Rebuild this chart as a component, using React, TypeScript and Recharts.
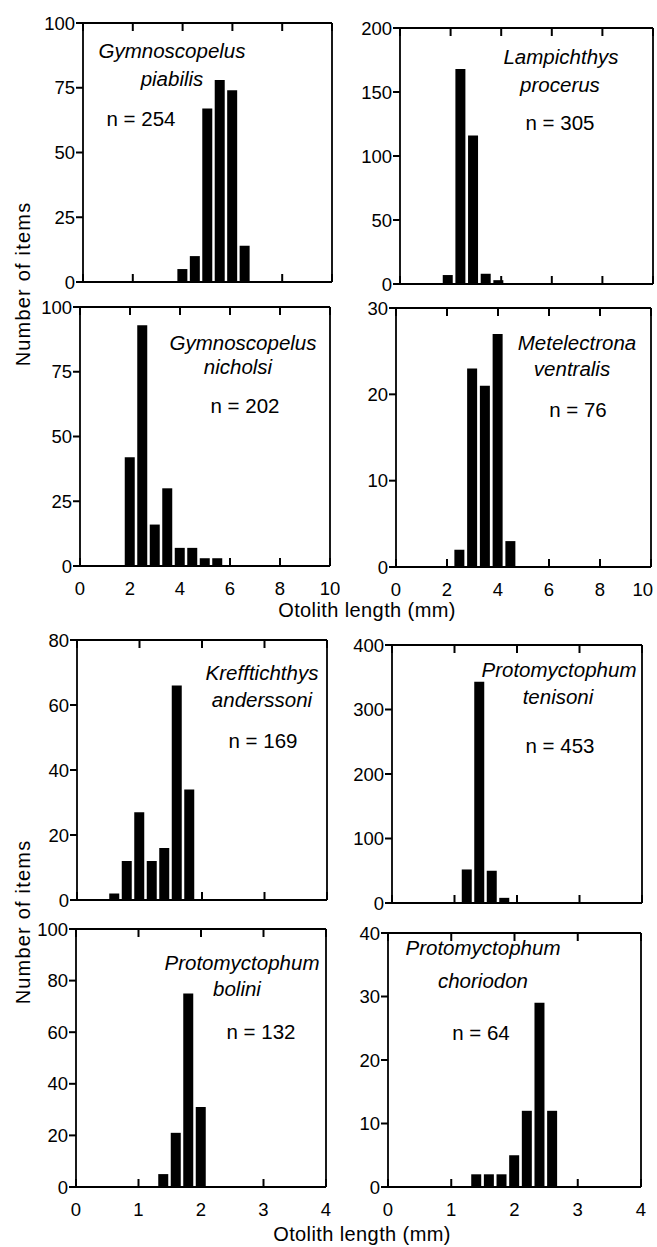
import { BarChart, Bar, XAxis, YAxis } from 'recharts';

// bin centres (mm) and counts
const piabilisBins = [4, 4.5, 5, 5.5, 6, 6.5];
const piabilisCounts = [5, 10, 67, 78, 74, 14];

const procerusBins = [1.9, 2.4, 2.9, 3.4, 3.9];
const procerusCounts = [7, 168, 116, 8, 3];

const nicholsiBins = [2, 2.5, 3, 3.5, 4, 4.5, 5, 5.5];
const nicholsiCounts = [42, 93, 16, 30, 7, 7, 3, 3];

const ventralisBins = [2.5, 3, 3.5, 4, 4.5];
const ventralisCounts = [2, 23, 21, 27, 3];

const anderssoniBins = [0.6, 0.8, 1.0, 1.2, 1.4, 1.6, 1.8];
const anderssoniCounts = [2, 12, 27, 12, 16, 66, 34];

const tenisoniBins = [1.2, 1.4, 1.6, 1.8];
const tenisoniCounts = [52, 343, 50, 8];

const boliniBins = [1.4, 1.6, 1.8, 2.0];
const boliniCounts = [5, 21, 75, 31];

const choriodonBins = [1.4, 1.6, 1.8, 2.0, 2.2, 2.4, 2.6];
const choriodonCounts = [2, 2, 2, 5, 12, 29, 12];

const wideXTicks = [0, 2, 4, 6, 8, 10];
const narrowXTicks = [0, 1, 2, 3, 4];

const ticks100by25 = [0, 25, 50, 75, 100];
const ticks200 = [0, 50, 100, 150, 200];
const ticks30 = [0, 10, 20, 30];
const ticks80 = [0, 20, 40, 60, 80];
const ticks400 = [0, 100, 200, 300, 400];
const ticks100by20 = [0, 20, 40, 60, 80, 100];
const ticks40 = [0, 10, 20, 30, 40];

const FONT = '"Liberation Sans", Arial, Helvetica, sans-serif';
const tickStyle = { fill: '#000', fontSize: 18.5, fontFamily: FONT };
const axisStroke = { stroke: '#000', strokeWidth: 1.8 };
const TICK = 8;

interface PanelProps {
  bins: number[];
  counts: number[];
  xTicks: number[];
  yTicks: number[];
  box: [number, number, number, number];
  xLabels: boolean;
  rightTicks: boolean;
  endLabelInside?: boolean;
}

function Panel({ bins, counts, xTicks, yTicks, box, xLabels, rightTicks, endLabelInside }: PanelProps) {
  const data = bins.map((x, i) => ({ x, n: counts[i] }));
  const [l, t, r, b] = box;
  const ML = 50, MT = 10, MR = 10, MB = 40;
  const xMax = xTicks[xTicks.length - 1];
  const yMax = yTicks[yTicks.length - 1];

  // inward ticks on the bottom, labels below
  const bottomTick = (p: any) => {
    const v = p.payload.value;
    const atEnd = endLabelInside && v === xMax;
    return (
      <g>
        <line x1={p.x} y1={p.y} x2={p.x} y2={p.y - TICK} stroke="#000" strokeWidth={2} />
        {xLabels && (
          <text x={atEnd ? p.x + 2 : p.x} y={p.y + 29} textAnchor={atEnd ? 'end' : 'middle'} {...tickStyle}>
            {v}
          </text>
        )}
      </g>
    );
  };
  const topTick = (p: any) => (
    <g>
      <line x1={p.x} y1={p.y} x2={p.x} y2={p.y + TICK} stroke="#000" strokeWidth={2} />
    </g>
  );
  const rightTick = (p: any) => (
    <g>
      {rightTicks && <line x1={p.x - TICK} y1={p.y} x2={p.x + 2} y2={p.y} stroke="#000" strokeWidth={2} />}
    </g>
  );

  return (
    <div style={{ position: 'absolute', left: l - ML, top: t - MT }}>
      <BarChart
        width={r - l + ML + MR}
        height={b - t + MT + MB}
        data={data}
        margin={{ top: MT - 1, right: MR - 1, left: 0, bottom: 0 }}
      >
        <XAxis
          dataKey="x"
          type="number"
          domain={[0, xMax]}
          ticks={xTicks}
          interval={0}
          height={MB}
          tickSize={0}
          tickMargin={0}
          tickLine={false}
          tick={bottomTick}
          axisLine={axisStroke}
        />
        <XAxis
          xAxisId="top"
          orientation="top"
          dataKey="x"
          type="number"
          domain={[0, xMax]}
          ticks={xTicks}
          interval={0}
          height={1}
          tickSize={0}
          tickMargin={0}
          tickLine={false}
          tick={topTick}
          axisLine={axisStroke}
        />
        <YAxis
          type="number"
          domain={[0, yMax]}
          ticks={yTicks}
          interval={0}
          width={ML}
          tickSize={7}
          tickMargin={1}
          tick={tickStyle}
          axisLine={axisStroke}
          tickLine={{ stroke: '#000', strokeWidth: 2 }}
        />
        <YAxis
          yAxisId="right"
          orientation="right"
          type="number"
          domain={[0, yMax]}
          ticks={yTicks}
          interval={0}
          width={1}
          tickSize={0}
          tickMargin={0}
          tickLine={false}
          tick={rightTick}
          axisLine={axisStroke}
        />
        <Bar dataKey="n" fill="#000" barSize={10} isAnimationActive={false} />
      </BarChart>
    </div>
  );
}

const species: { text: string; x: number; y: number; italic: boolean }[] = [
  { text: 'Gymnoscopelus', x: 172, y: 58, italic: true },
  { text: 'piabilis', x: 172, y: 86, italic: true },
  { text: 'n = 254', x: 141, y: 126, italic: false },
  { text: 'Lampichthys', x: 561, y: 64, italic: true },
  { text: 'procerus', x: 560, y: 92, italic: true },
  { text: 'n = 305', x: 560, y: 130, italic: false },
  { text: 'Gymnoscopelus', x: 243, y: 350, italic: true },
  { text: 'nicholsi', x: 238, y: 374, italic: true },
  { text: 'n = 202', x: 245, y: 413, italic: false },
  { text: 'Metelectrona', x: 577, y: 350, italic: true },
  { text: 'ventralis', x: 572, y: 376, italic: true },
  { text: 'n = 76', x: 578, y: 417, italic: false },
  { text: 'Krefftichthys', x: 262, y: 680, italic: true },
  { text: 'anderssoni', x: 262, y: 707, italic: true },
  { text: 'n = 169', x: 263, y: 748, italic: false },
  { text: 'Protomyctophum', x: 559, y: 677, italic: true },
  { text: 'tenisoni', x: 558, y: 704, italic: true },
  { text: 'n = 453', x: 560, y: 753, italic: false },
  { text: 'Protomyctophum', x: 242, y: 970, italic: true },
  { text: 'bolini', x: 237, y: 996, italic: true },
  { text: 'n = 132', x: 261, y: 1039, italic: false },
  { text: 'Protomyctophum', x: 483, y: 955, italic: true },
  { text: 'choriodon', x: 483, y: 988, italic: true },
  { text: 'n = 64', x: 481, y: 1040, italic: false },
];

export default function App() {
  return (
    <div style={{ position: 'absolute', left: 0, top: 0, width: 657, height: 1247, background: '#fff', overflow: 'hidden' }}>
      <Panel bins={piabilisBins} counts={piabilisCounts} xTicks={wideXTicks} yTicks={ticks100by25} box={[83, 23, 332, 282]} xLabels={false} rightTicks={false} />
      <Panel bins={procerusBins} counts={procerusCounts} xTicks={wideXTicks} yTicks={ticks200} box={[400, 28, 653, 284]} xLabels={false} rightTicks={false} />
      <Panel bins={nicholsiBins} counts={nicholsiCounts} xTicks={wideXTicks} yTicks={ticks100by25} box={[80, 307, 330, 566]} xLabels={true} rightTicks={false} />
      <Panel bins={ventralisBins} counts={ventralisCounts} xTicks={wideXTicks} yTicks={ticks30} box={[396, 308, 651, 567]} xLabels={true} rightTicks={false} endLabelInside={true} />
      <Panel bins={anderssoniBins} counts={anderssoniCounts} xTicks={narrowXTicks} yTicks={ticks80} box={[77, 640, 327, 900]} xLabels={false} rightTicks={true} />
      <Panel bins={tenisoniBins} counts={tenisoniCounts} xTicks={narrowXTicks} yTicks={ticks400} box={[392, 645, 642, 903]} xLabels={false} rightTicks={true} />
      <Panel bins={boliniBins} counts={boliniCounts} xTicks={narrowXTicks} yTicks={ticks100by20} box={[76, 929, 326, 1187]} xLabels={true} rightTicks={true} />
      <Panel bins={choriodonBins} counts={choriodonCounts} xTicks={narrowXTicks} yTicks={ticks40} box={[388, 933, 641, 1187]} xLabels={true} rightTicks={true} />
      <svg width={657} height={1247} style={{ position: 'absolute', left: 0, top: 0, pointerEvents: 'none' }}>
        <g fontFamily={FONT} fill="#000">
          {species.map((s, i) => (
            <text key={i} x={s.x} y={s.y} textAnchor="middle" fontSize={20.5} fontStyle={s.italic ? 'italic' : 'normal'}>
              {s.text}
            </text>
          ))}
          <text x={30} y={284} transform="rotate(-90 30 284)" textAnchor="middle" fontSize={20} letterSpacing={1.2}>
            Number of items
          </text>
          <text x={30} y={922} transform="rotate(-90 30 922)" textAnchor="middle" fontSize={20} letterSpacing={1.2}>
            Number of items
          </text>
          <text x={367} y={617} textAnchor="middle" fontSize={20} letterSpacing={0.4}>
            Otolith length (mm)
          </text>
          <text x={362} y={1241} textAnchor="middle" fontSize={20} letterSpacing={0.4}>
            Otolith length (mm)
          </text>
        </g>
      </svg>
    </div>
  );
}
